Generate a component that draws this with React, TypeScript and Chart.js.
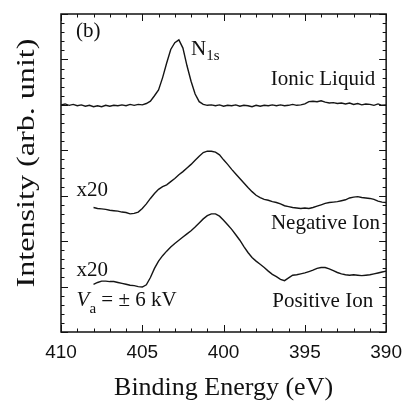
import React, { useEffect, useRef } from "react";
import { Chart, registerables } from "chart.js";

Chart.register(...registerables);

// Binding energy (eV), 0.25 eV sampling, 410 -> 390
const energies = [
  410, 409.75, 409.5, 409.25,
  409, 408.75, 408.5, 408.25,
  408, 407.75, 407.5, 407.25,
  407, 406.75, 406.5, 406.25,
  406, 405.75, 405.5, 405.25,
  405, 404.75, 404.5, 404.25,
  404, 403.75, 403.5, 403.25,
  403, 402.75, 402.5, 402.25,
  402, 401.75, 401.5, 401.25,
  401, 400.75, 400.5, 400.25,
  400, 399.75, 399.5, 399.25,
  399, 398.75, 398.5, 398.25,
  398, 397.75, 397.5, 397.25,
  397, 396.75, 396.5, 396.25,
  396, 395.75, 395.5, 395.25,
  395, 394.75, 394.5, 394.25,
  394, 393.75, 393.5, 393.25,
  393, 392.75, 392.5, 392.25,
  392, 391.75, 391.5, 391.25,
  391, 390.75, 390.5, 390.25,
  390,
];

const ionicLiquid = [
  5.0, 5.02, 4.99, 5.01,
  4.98, 5.0, 4.97, 4.99,
  4.96, 4.98, 4.96, 4.99,
  4.97, 4.99, 4.98, 5.0,
  4.98, 5.01, 4.99, 5.01,
  5.0, 5.03, 5.08, 5.2,
  5.33, 5.6, 5.92, 6.22,
  6.37, 6.43, 6.25, 5.86,
  5.52, 5.24, 5.07, 5.01,
  4.99, 5.0, 4.98, 5.0,
  4.97, 4.99, 4.98, 5.0,
  4.97, 4.99, 4.98, 4.96,
  4.99, 4.97, 4.99, 4.98,
  5.0, 4.98, 5.0, 4.98,
  4.99, 5.01, 4.99, 5.0,
  5.02, 5.07, 5.08, 5.07,
  5.09, 5.06, 5.04, 5.05,
  5.03, 5.04, 5.02, 5.04,
  5.01, 5.03, 5.0, 5.02,
  5.01, 4.99, 5.02, 4.99,
  5.0,
];

const negativeIon = [
  null, null, null, null,
  null, null, null, null,
  2.74, 2.72, 2.71, 2.7,
  2.68, 2.67, 2.66, 2.64,
  2.63, 2.6, 2.61, 2.64,
  2.72, 2.82, 2.94, 3.05,
  3.14, 3.2, 3.24, 3.31,
  3.38, 3.46, 3.53, 3.61,
  3.69, 3.78, 3.87, 3.95,
  3.98, 3.98, 3.96, 3.9,
  3.79, 3.69, 3.58, 3.48,
  3.38, 3.28, 3.18, 3.09,
  3.01, 2.96, 2.92, 2.9,
  2.87, 2.85, 2.82, 2.78,
  2.76, 2.74, 2.73, 2.72,
  2.73, 2.72, 2.74, 2.77,
  2.8, 2.83, 2.85, 2.86,
  2.87, 2.89, 2.91, 2.95,
  2.97, 2.98, 2.96, 2.95,
  2.94, 2.92, 2.88, 2.86,
  2.85,
];

const positiveIon = [
  null, null, null, null,
  null, null, null, null,
  1.05, 1.09, 1.12, 1.12,
  1.11, 1.11, 1.09, 1.07,
  1.05, 1.03, 1.02, 1.0,
  0.99, 1.04, 1.2, 1.4,
  1.56, 1.68, 1.78, 1.87,
  1.95, 2.02, 2.09, 2.16,
  2.23, 2.31, 2.4, 2.49,
  2.56, 2.6, 2.6, 2.55,
  2.46, 2.36, 2.26, 2.14,
  2.02, 1.88, 1.75, 1.64,
  1.56, 1.49, 1.42, 1.34,
  1.27, 1.22, 1.16, 1.13,
  1.19, 1.25, 1.26, 1.28,
  1.3, 1.33, 1.36, 1.4,
  1.42, 1.42, 1.39, 1.35,
  1.31, 1.28, 1.26, 1.25,
  1.26, 1.25, 1.24, 1.25,
  1.26, 1.28, 1.3, 1.32,
  1.34,
];

const xTickLabels = [410, 405, 400, 395, 390];
const xRange = [390, 410];
const yRange = [0, 7];

const xTitle = "Binding Energy (eV)";
const yTitle = "Intensity (arb. unit)";

type Part = { t: string; sub?: boolean; italic?: boolean };
type Note = { x: number; y: number; align: "left" | "right"; parts: Part[]; size: number; subSize: number; subDy: number };

const notes: Note[] = [
  { x: 409.08, y: 6.49, align: "left", parts: [{ t: "(b)" }], size: 21, subSize: 14, subDy: 0 },
  { x: 402.0, y: 6.1, align: "left", parts: [{ t: "N" }, { t: "1s", sub: true }], size: 21, subSize: 15, subDy: 5 },
  { x: 390.67, y: 5.43, align: "right", parts: [{ t: "Ionic Liquid" }], size: 21, subSize: 15, subDy: 0 },
  { x: 409.04, y: 3.0, align: "left", parts: [{ t: "x20" }], size: 21, subSize: 15, subDy: 0 },
  { x: 390.38, y: 2.27, align: "right", parts: [{ t: "Negative Ion" }], size: 21, subSize: 15, subDy: 0 },
  { x: 409.04, y: 1.24, align: "left", parts: [{ t: "x20" }], size: 21, subSize: 15, subDy: 0 },
  {
    x: 409.04, y: 0.58, align: "left",
    parts: [{ t: "V", italic: true }, { t: "a", sub: true }, { t: " = \u00b1 6 kV" }],
    size: 21, subSize: 15, subDy: 7,
  },
  { x: 390.8, y: 0.56, align: "right", parts: [{ t: "Positive Ion" }], size: 21, subSize: 15, subDy: 0 },
];

const SERIF = '"Liberation Serif", "Times New Roman", serif';
const SANS = '"Liberation Sans", Arial, sans-serif';
const INK = "#111111";

const framePlugin = {
  id: "frameTicks",
  afterDatasetsDraw(chart: any) {
    const { ctx, chartArea, scales } = chart;
    const { left, right, top, bottom } = chartArea;
    const xs = scales.x;
    const ys = scales.y;
    ctx.save();
    ctx.strokeStyle = INK;
    ctx.lineWidth = 1.5;
    ctx.strokeRect(left, top, right - left, bottom - top);
    ctx.lineWidth = 1;
    ctx.beginPath();
    for (let v = xRange[0]; v <= xRange[1]; v += 1) {
      const px = Math.round(xs.getPixelForValue(v)) + 0.5;
      const len = v % 5 === 0 ? 7 : 3.5;
      ctx.moveTo(px, bottom);
      ctx.lineTo(px, bottom - len);
      ctx.moveTo(px, top);
      ctx.lineTo(px, top + len);
    }
    for (let i = 0; i <= yRange[1] * 5; i++) {
      const py = Math.round(ys.getPixelForValue(i / 5)) + 0.5;
      const len = i % 5 === 0 ? 7 : 3.5;
      ctx.moveTo(left, py);
      ctx.lineTo(left + len, py);
      ctx.moveTo(right, py);
      ctx.lineTo(right - len, py);
    }
    ctx.stroke();

    // annotations
    ctx.fillStyle = INK;
    ctx.textBaseline = "alphabetic";
    ctx.textAlign = "left";
    for (const n of notes) {
      const fontOf = (p: Part) =>
        `${p.italic ? "italic " : ""}${p.sub ? n.subSize : n.size}px ${SERIF}`;
      let total = 0;
      for (const p of n.parts) {
        ctx.font = fontOf(p);
        total += ctx.measureText(p.t).width;
      }
      let cx = xs.getPixelForValue(n.x);
      const by = ys.getPixelForValue(n.y);
      if (n.align === "right") cx -= total;
      for (const p of n.parts) {
        ctx.font = fontOf(p);
        ctx.fillText(p.t, cx, by + (p.sub ? n.subDy : 0));
        cx += ctx.measureText(p.t).width;
      }
    }

    // y axis title (stretched along its length as in the reference)
    ctx.font = `26px ${SERIF}`;
    const w = ctx.measureText(yTitle).width;
    ctx.translate(27, 163);
    ctx.rotate(-Math.PI / 2);
    ctx.scale(249 / w, 1);
    ctx.textAlign = "center";
    ctx.textBaseline = "middle";
    ctx.fillText(yTitle, 0, 0);
    ctx.restore();
  },
};

export default function App() {
  const ref = useRef<HTMLCanvasElement | null>(null);

  useEffect(() => {
    document.body.style.margin = "0";
    const canvas = ref.current;
    if (!canvas) return;
    const mk = (vals: (number | null)[]) =>
      energies.map((e, i) => ({ x: e, y: vals[i] }));
    const lineStyle = {
      borderColor: "#151515",
      borderWidth: 1.4,
      pointRadius: 0,
      tension: 0,
      fill: false,
      spanGaps: false,
    };
    const chart = new Chart(canvas, {
      type: "line",
      data: {
        datasets: [
          { label: "Ionic Liquid", data: mk(ionicLiquid), ...lineStyle },
          { label: "Negative Ion", data: mk(negativeIon), ...lineStyle },
          { label: "Positive Ion", data: mk(positiveIon), ...lineStyle },
        ] as any,
      },
      options: {
        animation: false,
        responsive: false,
        devicePixelRatio: 1,
        layout: { padding: { left: 61, right: 23, top: 14, bottom: 8 } },
        plugins: {
          legend: { display: false },
          tooltip: { enabled: false },
        },
        scales: {
          x: {
            type: "linear",
            min: xRange[0],
            max: xRange[1],
            reverse: true,
            afterBuildTicks: (s: any) => {
              s.ticks = xTickLabels.map((v) => ({ value: v }));
            },
            ticks: {
              color: INK,
              padding: 9,
              maxRotation: 0,
              autoSkip: false,
              font: { family: SANS, size: 19 },
            },
            grid: { display: false, drawTicks: false },
            border: { display: false },
            title: {
              display: true,
              text: xTitle,
              color: INK,
              font: { family: SERIF, size: 26 },
              padding: { top: 0, bottom: 0 },
            },
          },
          y: {
            type: "linear",
            min: yRange[0],
            max: yRange[1],
            display: false,
          },
        },
      },
      plugins: [framePlugin],
    });
    return () => chart.destroy();
  }, []);

  return (
    <div style={{ position: "absolute", left: 0, top: 0, width: 411, height: 412, background: "#fff" }}>
      <canvas ref={ref} width={411} height={412} style={{ display: "block" }} />
    </div>
  );
}
